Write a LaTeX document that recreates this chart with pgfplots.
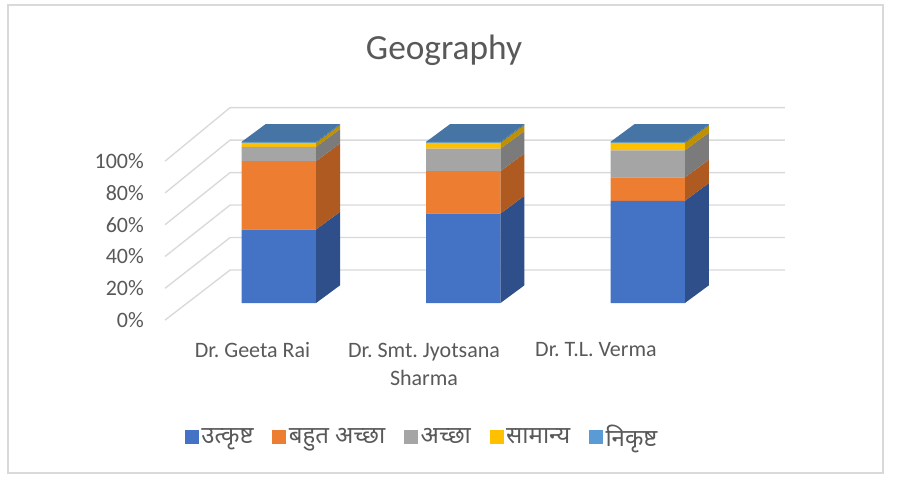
\documentclass[border=0pt]{standalone}
\usepackage{pgfplots}
\pgfplotsset{compat=1.18}
\usepackage{fontspec}
\setmainfont{Carlito}
\newfontfamily\deva[Script=Devanagari]{Noto Sans}
\frenchspacing
\definecolor{cBlue}{HTML}{4472C4}
\definecolor{cOrange}{HTML}{ED7D31}
\definecolor{cGray}{HTML}{A5A5A5}
\definecolor{cYellow}{HTML}{FFC000}
\definecolor{cLBlue}{HTML}{5B9BD5}
\definecolor{sBlue}{HTML}{2F4F8A}
\definecolor{sOrange}{HTML}{AE5A21}
\definecolor{sGray}{HTML}{7B7B7B}
\definecolor{sYellow}{HTML}{BF9000}
\definecolor{sLBlue}{HTML}{41719C}
\definecolor{topC}{HTML}{4675A5}
\definecolor{txt}{HTML}{595959}
\definecolor{gridC}{HTML}{D9D9D9}
\pgfplotsset{common/.style={scale only axis, width=675pt, height=358.5pt,
  xmin=0, xmax=900, ymin=-108.49, ymax=187.85, clip=false}}
\begin{document}
\begin{tikzpicture}
% ---------- axis 1: walls, gridlines, 3D faces, labels ----------
\begin{axis}[common,
  axis background/.style={fill=white},
  axis line style={draw=none}, major tick length=0pt,
  ytick={-10.54,9.18,28.9,48.6,68.3,88.0},
  yticklabels={0\%,20\%,40\%,60\%,80\%,100\%},
  yticklabel style={anchor=east, inner sep=0pt, xshift=108pt,
    font=\fontsize{16.5}{20}\selectfont, text=txt},
  /pgf/number format/assume math mode=true,
  xtick={252.5,424,596},
  xticklabels={Dr. Geeta Rai, {Dr. Smt. Jyotsana\\Sharma}, Dr. T.L. Verma},
  xticklabel style={anchor=north, align=center, inner sep=0pt, yshift=101.6pt,
    font=\fontsize{16.5}{21}\selectfont, text=txt},
]
\draw[gridC, line width=1.1pt] (axis cs:8,184.75) rectangle (axis cs:883,-105.4);
\node[anchor=base, font=\fontsize{26.5}{30}\selectfont, text=txt] at (axis cs:444,151.3) {Geography};
% gridlines (left wall diagonal + back wall)
\addplot[gridC, line width=1pt, forget plot] coordinates {(165,-10.54)(230,20.46)(785,20.46)};
\addplot[gridC, line width=1pt, forget plot] coordinates {(165,9.18)(230,40.6)(785,40.6)};
\addplot[gridC, line width=1pt, forget plot] coordinates {(165,28.9)(230,60.76)(785,60.76)};
\addplot[gridC, line width=1pt, forget plot] coordinates {(165,48.6)(230,80.9)(785,80.9)};
\addplot[gridC, line width=1pt, forget plot] coordinates {(165,68.3)(230,101.05)(785,101.05)};
\addplot[gridC, line width=1pt, forget plot] coordinates {(165,88.0)(230,121.2)(785,121.2)};
% side faces bar 1
\addplot[fill=sBlue, draw=none, forget plot] coordinates {(316,0)(340,11)(340,56.6)(316,45.6)} -- cycle;
\addplot[fill=sOrange, draw=none, forget plot] coordinates {(316,45.6)(340,56.6)(340,99)(316,88)} -- cycle;
\addplot[fill=sGray, draw=none, forget plot] coordinates {(316,88)(340,99)(340,107.9)(316,96.9)} -- cycle;
\addplot[fill=sYellow, draw=none, forget plot] coordinates {(316,96.9)(340,107.9)(340,110.4)(316,99.4)} -- cycle;
\addplot[fill=sLBlue, draw=none, forget plot] coordinates {(316,99.4)(340,110.4)(340,111)(316,100)} -- cycle;
\addplot[fill=topC, draw=none, forget plot] coordinates {(241.65,100)(316,100)(340,111)(265.65,111)} -- cycle;
% side faces bar 2
\addplot[fill=sBlue, draw=none, forget plot] coordinates {(500.45,0)(524.45,11)(524.45,66.5)(500.45,55.5)} -- cycle;
\addplot[fill=sOrange, draw=none, forget plot] coordinates {(500.45,55.5)(524.45,66.5)(524.45,92.8)(500.45,81.8)} -- cycle;
\addplot[fill=sGray, draw=none, forget plot] coordinates {(500.45,81.8)(524.45,92.8)(524.45,106.7)(500.45,95.7)} -- cycle;
\addplot[fill=sYellow, draw=none, forget plot] coordinates {(500.45,95.7)(524.45,106.7)(524.45,110.4)(500.45,99.4)} -- cycle;
\addplot[fill=sLBlue, draw=none, forget plot] coordinates {(500.45,99.4)(524.45,110.4)(524.45,111)(500.45,100)} -- cycle;
\addplot[fill=topC, draw=none, forget plot] coordinates {(426.15,100)(500.45,100)(524.45,111)(450.15,111)} -- cycle;
% side faces bar 3
\addplot[fill=sBlue, draw=none, forget plot] coordinates {(684.95,0)(708.95,11)(708.95,74.4)(684.95,63.4)} -- cycle;
\addplot[fill=sOrange, draw=none, forget plot] coordinates {(684.95,63.4)(708.95,74.4)(708.95,88.9)(684.95,77.9)} -- cycle;
\addplot[fill=sGray, draw=none, forget plot] coordinates {(684.95,77.9)(708.95,88.9)(708.95,105.7)(684.95,94.7)} -- cycle;
\addplot[fill=sYellow, draw=none, forget plot] coordinates {(684.95,94.7)(708.95,105.7)(708.95,110.3)(684.95,99.3)} -- cycle;
\addplot[fill=sLBlue, draw=none, forget plot] coordinates {(684.95,99.3)(708.95,110.3)(708.95,111)(684.95,100)} -- cycle;
\addplot[fill=topC, draw=none, forget plot] coordinates {(610.65,100)(684.95,100)(708.95,111)(634.65,111)} -- cycle;
\end{axis}
% ---------- axis 2: front faces of the stacked bars + legend ----------
\begin{axis}[common, hide axis, ybar stacked, bar width=74.3,
  legend columns=5,
  legend style={at={(0.4694,0.0857)}, anchor=center, draw=none, fill=none,
    font=\deva\fontsize{18}{22}\selectfont, text=txt,
    /tikz/every even column/.append style={column sep=12pt},
    /tikz/every odd column/.append style={column sep=0pt}},
  legend image code/.code={\fill[#1] (0pt,-5.25pt) rectangle (10.5pt,5.25pt);},
]
\addplot[fill=cBlue, draw=none] coordinates {(278.8,45.6)(463.3,55.5)(647.8,63.4)};
\addlegendentry{उत्कृष्ट}
\addplot[fill=cOrange, draw=none] coordinates {(278.8,42.4)(463.3,26.3)(647.8,14.5)};
\addlegendentry{बहुत अच्छा}
\addplot[fill=cGray, draw=none] coordinates {(278.8,8.9)(463.3,13.9)(647.8,16.8)};
\addlegendentry{अच्छा}
\addplot[fill=cYellow, draw=none] coordinates {(278.8,2.5)(463.3,3.7)(647.8,4.6)};
\addlegendentry{सामान्य}
\addplot[fill=cLBlue, draw=none] coordinates {(278.8,0.6)(463.3,0.6)(647.8,0.7)};
\addlegendentry{निकृष्ट}
\end{axis}
\end{tikzpicture}
\end{document}
